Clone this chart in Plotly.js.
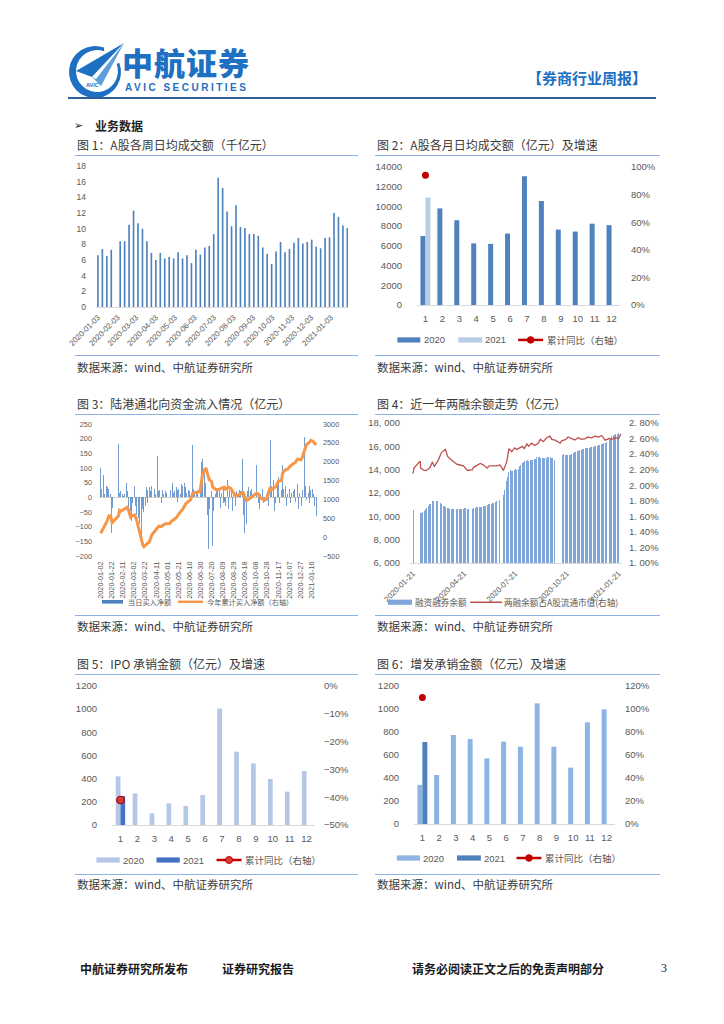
<!DOCTYPE html>
<html><head><meta charset="utf-8">
<script src="https://cdn.plot.ly/plotly-3.0.1.min.js"></script>
<style>
html,body{margin:0;padding:0;background:#fff;}
#page{position:relative;width:724px;height:1024px;overflow:hidden;background:#fff;font-family:"Noto Sans CJK SC","Noto Sans",sans-serif;}
.t{position:absolute;white-space:nowrap;line-height:1;}
.rule{position:absolute;height:0;border-top:1.5px solid #8db3e2;}
.chart{position:absolute;}
.cap{font-size:12px;color:#3a3a3a;}
.src{font-size:11.5px;color:#3a3a3a;}
.foot{font-size:12px;font-weight:700;color:#1a1a1a;}
</style></head>
<body><div id="page">
<svg class="t" style="left:0;top:0" width="724" height="110">
  <path d="M119.4,63.1 A26,26 0 1 1 103.9,47.6 L104.2,51.3 A21,21 0 1 0 116.7,63.8 Z" fill="#1d70c2"/>
  <polygon points="76,71 124,43 92,77" fill="#1d70c2"/>
  <polygon points="92,77 124,43 101,86" fill="#5d9fdc"/>
  <polygon points="92,77 124,43 96,79" fill="#ffffff"/>
  <text x="86" y="87" font-family="Liberation Sans" font-size="5.5" font-weight="700" fill="#1d70c2">AVIC</text>
</svg>
<div class="t" style="left:122px;top:46px;font-size:31px;font-weight:900;color:#1d70c2;letter-spacing:1px;">中航证券</div>
<div class="t" style="left:125px;top:83px;font-size:10px;font-weight:700;color:#1d70c2;letter-spacing:2.5px;font-family:'Liberation Sans',Arial,sans-serif;">AVIC SECURITIES</div>
<div class="t" style="left:527px;top:70px;font-size:15px;font-weight:700;color:#1d70c2;">【券商行业周报】</div>
<div style="position:absolute;left:68px;top:97px;width:588px;height:0;border-top:2px solid #2e5f96;"></div>
<div class="t" style="left:74px;top:120px;font-size:11px;color:#222;font-family:'DejaVu Sans';">➢</div>
<div class="t" style="left:95px;top:120px;font-size:12px;font-weight:700;color:#222;">业务数据</div>

<div class="t cap" style="left:77px;top:139px;">图 1：A股各周日均成交额（千亿元）</div>
<div class="t cap" style="left:377px;top:139px;">图 2：A股各月日均成交额（亿元）及增速</div>
<div class="rule" style="left:75px;top:155px;width:283px;"></div>
<div class="rule" style="left:375px;top:155px;width:285px;"></div>
<div class="rule" style="left:75px;top:355px;width:283px;"></div>
<div class="rule" style="left:375px;top:355px;width:285px;"></div>
<div class="t src" style="left:77px;top:362px;">数据来源：wind、中航证券研究所</div>
<div class="t src" style="left:377px;top:362px;">数据来源：wind、中航证券研究所</div>

<div class="t cap" style="left:77px;top:398px;">图 3：陆港通北向资金流入情况（亿元）</div>
<div class="t cap" style="left:377px;top:398px;">图 4：近一年两融余额走势（亿元）</div>
<div class="rule" style="left:75px;top:414px;width:283px;"></div>
<div class="rule" style="left:375px;top:414px;width:285px;"></div>
<div class="rule" style="left:75px;top:615px;width:283px;"></div>
<div class="rule" style="left:375px;top:615px;width:285px;"></div>
<div class="t src" style="left:77px;top:621px;">数据来源：wind、中航证券研究所</div>
<div class="t src" style="left:377px;top:621px;">数据来源：wind、中航证券研究所</div>

<div class="t cap" style="left:77px;top:658px;">图 5：IPO 承销金额（亿元）及增速</div>
<div class="t cap" style="left:377px;top:658px;">图 6：增发承销金额（亿元）及增速</div>
<div class="rule" style="left:75px;top:674px;width:283px;"></div>
<div class="rule" style="left:375px;top:674px;width:285px;"></div>
<div class="rule" style="left:75px;top:874px;width:283px;"></div>
<div class="rule" style="left:375px;top:874px;width:285px;"></div>
<div class="t src" style="left:77px;top:879px;">数据来源：wind、中航证券研究所</div>
<div class="t src" style="left:377px;top:879px;">数据来源：wind、中航证券研究所</div>

<div class="t foot" style="left:80px;top:963px;">中航证券研究所发布</div>
<div class="t foot" style="left:222px;top:963px;">证券研究报告</div>
<div class="t foot" style="left:412px;top:963px;">请务必阅读正文之后的免责声明部分</div>
<div class="t" style="left:661px;top:962px;font-size:12px;color:#1a1a1a;font-family:'Liberation Serif',serif;">3</div>

<div id="c1" class="chart"></div>
<div id="c2" class="chart"></div>
<div id="c3" class="chart"></div>
<div id="c4" class="chart"></div>
<div id="c5" class="chart"></div>
<div id="c6" class="chart"></div>
</div>
<script>
// ---------------- DATA ----------------
// Fig 1: weekly average daily turnover (千亿元)
const weekDates = ['2020-01-03','2020-01-10','2020-01-17','2020-01-24','2020-01-31','2020-02-07','2020-02-14','2020-02-21','2020-02-28',
 '2020-03-06','2020-03-13','2020-03-20','2020-03-27','2020-04-03','2020-04-10','2020-04-17','2020-04-24','2020-05-01','2020-05-08',
 '2020-05-15','2020-05-22','2020-05-29','2020-06-05','2020-06-12','2020-06-19','2020-06-26','2020-07-03','2020-07-10','2020-07-17',
 '2020-07-24','2020-07-31','2020-08-07','2020-08-14','2020-08-21','2020-08-28','2020-09-04','2020-09-11','2020-09-18','2020-09-25',
 '2020-10-02','2020-10-09','2020-10-16','2020-10-23','2020-10-30','2020-11-06','2020-11-13','2020-11-20','2020-11-27','2020-12-04',
 '2020-12-11','2020-12-18','2020-12-25','2021-01-01','2021-01-08','2021-01-15','2021-01-22','2021-01-29'];
const weeklyTurnover = [6.6,7.4,6.5,7.3,null,8.4,8.4,10.5,12.3,10.7,
 10.0,8.4,6.9,6.0,6.9,6.2,6.4,6.2,7.0,6.2,
 6.6,5.6,7.3,6.7,7.6,7.8,9.3,16.5,15.2,12.2,
 10.3,13.0,10.2,10.1,9.3,9.3,9.1,7.6,6.8,5.5,
 7.1,8.3,7.0,7.4,8.2,8.8,8.1,8.3,8.6,7.7,
 7.5,8.8,8.9,12.0,11.5,10.4,10.1];

// Fig 2: monthly average daily turnover (亿元) and cumulative YoY
const months = ['1','2','3','4','5','6','7','8','9','10','11','12'];
const turnover2020 = [7000,9800,8600,6250,6200,7250,13050,10550,7650,7450,8250,8100];
const turnover2021 = [10900,null,null,null,null,null,null,null,null,null,null,null];
const turnoverYoY  = [0.94,null,null,null,null,null,null,null,null,null,null,null];

// Fig 3: northbound daily net buy (亿元), by month (trading days)
const nbJan20 = [100,30,25,75,20,10,75,40,35,30,30,40,10,-5,-120,-35];
const nbFeb20 = [182,105,15,-20,20,10,30,5,-15,10,50,20,20,-30,-40,-30,-45,-80,-30,-20];
const nbMar20 = [30,40,-20,-30,-60,-140,-70,-40,-90,-45,-150,-40,-35,-50,20,-30,40,35,25,-20,35,20];
const nbApr20 = [20,45,40,60,30,35,10,140,85,20,-15,25,15,-20,15,25,10,-10,20,30,15];
const nbMay20 = [10,25,20,48,15,-10,20,30,35,25,-15,30,40,10,20,45,35,40];
const nbJun20 = [50,40,35,60,15,25,10,20,-10,5,20,180,30,40,20,10,15,25,30,50];
const nbJul20 = [40,120,130,135,90,30,50,20,-60,-175,-50,-40,-80,20,-30,-165,-25,-45,10,5,20,-40,30];
const nbAug20 = [30,20,-35,25,15,-20,40,-15,20,-30,15,60,-10,-40,25,-20,30,-35,-45,20,-40];
const nbSep20 = [-30,-40,20,-25,15,25,-10,20,10,130,-40,-60,-120,30,-90,-40,20,35,15,20,-10,30];
const nbOct20 = [110,-20,15,-40,-70,10,-25,30,-10,-20,-15,35,10,-15,20,-30];
const nbNov20 = [30,195,-50,40,20,60,-45,15,-20,35,50,70,20,-20,30,25,40,110,30,25,40];
const nbDec20 = [25,-30,15,10,20,30,-20,40,15,-25,20,30,10,-15,20,45,30,-40,15,20,-30,40,25];
const nbJan21 = [205,40,20,-10,80,15,-20,40,25,20,30,-25,10,-30,-20,-65];
// Fig 3: cumulative net buy this year (亿元, right axis)
const nbCumDates = ['2020-01-02','2020-01-07','2020-01-13','2020-01-17','2020-01-20','2020-01-22','2020-01-23','2020-02-03','2020-02-05','2020-02-07',
 '2020-02-12','2020-02-17','2020-02-19','2020-02-21','2020-02-25','2020-02-28','2020-03-03','2020-03-06','2020-03-09','2020-03-13',
 '2020-03-18','2020-03-20','2020-03-25','2020-03-30','2020-04-03','2020-04-13','2020-04-16','2020-04-20','2020-04-27','2020-05-06',
 '2020-05-08','2020-05-14','2020-05-18','2020-05-22','2020-05-29','2020-06-04','2020-06-09','2020-06-12','2020-06-16','2020-06-22',
 '2020-06-24','2020-06-29','2020-07-01','2020-07-03','2020-07-07','2020-07-10','2020-07-13','2020-07-16','2020-07-20','2020-07-22',
 '2020-07-24','2020-07-29','2020-08-03','2020-08-07','2020-08-12','2020-08-14','2020-08-20','2020-08-24','2020-08-28','2020-09-02',
 '2020-09-07','2020-09-11','2020-09-14','2020-09-17','2020-09-21','2020-09-25','2020-09-30','2020-10-09','2020-10-12','2020-10-16',
 '2020-10-23','2020-10-27','2020-11-03','2020-11-04','2020-11-09','2020-11-13','2020-11-17','2020-11-23','2020-11-25','2020-11-30',
 '2020-12-04','2020-12-08','2020-12-14','2020-12-18','2020-12-22','2020-12-28','2020-12-30','2021-01-04','2021-01-07','2021-01-12',
 '2021-01-15','2021-01-19','2021-01-22','2021-01-25'];
const nbCumValues = [102,235,413,563,570,430,390,560,705,680,
 723,767,794,723,528,563,590,501,324,14,
 -208,-252,-181,-119,58,235,297,280,351,368,
 413,475,528,616,740,900,971,989,1166,1184,
 1210,1210,1387,1609,1786,1830,1653,1520,1476,1325,
 1299,1254,1272,1299,1325,1272,1325,1290,1184,1095,
 1122,1148,1210,1095,971,1006,1060,1166,1148,1033,
 989,1006,1325,1254,1299,1343,1476,1503,1697,1786,
 1804,1875,1946,1981,2070,2052,2096,2318,2451,2513,
 2566,2539,2477,2460];

// Fig 4: margin balance (亿元), by month (trading days)
const mgJan20 = [10600,10580,10520];
const mgFeb20 = [10270,10250,10300,10350,10400,10450,10500,10560,10620,10680,10760,10850,10930,11020,11100,11200,11290,11320,11280,11220];
const mgMar20 = [11250,11300,11330,11320,11300,11250,11180,11120,11060,11000,10920,10850,10800,10760,10720,10700,10690,10680,10670,10660,10650,10640];
const mgApr20 = [10630,10620,10600,10610,10630,10650,10660,10650,10640,10620,10630,10640,10650,10660,10680,10690,10680,10660,10640,10620,10600];
const mgMay20 = [10620,10650,10680,10700,10730,10760,10780,10790,10800,10810,10820,10830,10830,10840,10850,10870,10890,10910];
const mgJun20 = [10930,10960,10990,11020,11050,11070,11090,11110,11130,11150,11180,11210,11250,11290,11330,11380,11430,11480,11620,11800];
const mgJul20 = [12000,12250,12550,13000,13350,13600,13800,13900,13950,13900,13880,13920,13950,13980,14020,14050,14000,14020,14100,14180,14300,14420,14530];
const mgAug20 = [14600,14650,14700,14740,14760,14760,14780,14790,14800,14780,14800,14820,14840,14850,14860,14880,14900,14950,15000,15050,15100];
const mgSep20 = [15080,15060,15040,15020,15000,14980,14960,14970,15000,15020,15040,15060,15080,15090,15100,15080,15040,14990,14960,14900,14860,14820];
const mgOct20 = [15160,15230,15290,15330,15320,15300,15290,15280,15260,15250,15240,15260,15290,15320,15350,15380];
const mgNov20 = [15400,15440,15480,15520,15540,15570,15600,15620,15650,15680,15700,15720,15750,15780,15810,15840,15870,15880,15890,15900,15900];
const mgDec20 = [15900,15910,15920,15940,15960,15980,16000,16010,16030,16060,16080,16100,16120,16140,16170,16200,16220,16240,16260,16290,16320,16340,16360];
const mgJan21 = [16450,16550,16650,16750,16860,16900,16940,16980,17000,17030,17060,17090,17110,17140,17150,17200];
// Fig 4: margin balance / A-share float market cap (%, right axis)
const mgRatioDates = ['2020-01-21','2020-01-22','2020-01-23','2020-02-03','2020-02-04','2020-02-10','2020-02-14','2020-02-20','2020-02-25','2020-02-28',
 '2020-03-06','2020-03-12','2020-03-19','2020-03-23','2020-03-27','2020-04-02','2020-04-08','2020-04-14','2020-04-20','2020-04-27',
 '2020-05-06','2020-05-08','2020-05-14','2020-05-20','2020-05-26','2020-06-01','2020-06-05','2020-06-12','2020-06-18','2020-06-24',
 '2020-06-30','2020-07-06','2020-07-10','2020-07-15','2020-07-20','2020-07-24','2020-07-29','2020-08-03','2020-08-06','2020-08-11',
 '2020-08-14','2020-08-19','2020-08-25','2020-08-31','2020-09-04','2020-09-09','2020-09-15','2020-09-21','2020-09-24','2020-09-30',
 '2020-10-09','2020-10-12','2020-10-19','2020-10-23','2020-10-30','2020-11-04','2020-11-10','2020-11-16','2020-11-23','2020-11-27',
 '2020-12-04','2020-12-10','2020-12-16','2020-12-22','2020-12-28','2021-01-04','2021-01-08','2021-01-15','2021-01-21','2021-01-25'];
const mgRatioValues = [2.15,2.17,2.22,2.31,2.22,2.19,2.19,2.22,2.30,2.24,
 2.32,2.42,2.46,2.37,2.34,2.30,2.27,2.26,2.25,2.19,
 2.20,2.23,2.25,2.28,2.26,2.22,2.25,2.25,2.25,2.26,
 2.19,2.30,2.47,2.43,2.48,2.46,2.48,2.50,2.47,2.53,
 2.50,2.54,2.51,2.54,2.59,2.56,2.61,2.63,2.59,2.58,
 2.54,2.57,2.59,2.62,2.60,2.58,2.61,2.59,2.60,2.62,
 2.61,2.63,2.62,2.64,2.58,2.60,2.59,2.61,2.60,2.66];

// Fig 5: IPO underwriting (亿元) and cumulative YoY
const ipo2020 = [420,273,100,187,164,259,1005,633,532,397,288,466];
const ipo2021 = [250,null,null,null,null,null,null,null,null,null,null,null];
const ipoYoY  = [-0.41,null,null,null,null,null,null,null,null,null,null,null];

// Fig 6: follow-on offering underwriting (亿元) and cumulative YoY
const spo2020 = [340,426,774,739,571,716,672,1049,672,490,884,997];
const spo2021 = [713,null,null,null,null,null,null,null,null,null,null,null];
const spoYoY  = [1.10,null,null,null,null,null,null,null,null,null,null,null];

// tick labels / series names
const c4LeftTicks = [6000,8000,10000,12000,14000,16000,18000];
const c4LeftText = ['6, 000','8, 000','10, 000','12, 000','14, 000','16, 000','18, 000'];
const c4RightTicks = [1.0,1.2,1.4,1.6,1.8,2.0,2.2,2.4,2.6,2.8];
const c4RightText = ['1. 00%','1. 20%','1. 40%','1. 60%','1. 80%','2. 00%','2. 20%','2. 40%','2. 60%','2. 80%'];
const c4XTicks = ['2020-01-21','2020-04-21','2020-07-21','2020-10-21','2021-01-21'];
const yearNames = ['2020','2021'];
const yoyName = '累计同比（右轴）';
const nbNames = ['当日买入净额','今年累计买入净额（右轴）'];
const mgNames = ['融资融券余额','两融余额占A股流通市值(右轴)'];

// ---------------- HELPERS ----------------
const DAY = 86400000;
const HOLIDAYS = new Set(['2020-01-01','2020-01-24','2020-01-27','2020-01-28','2020-01-29','2020-01-30','2020-01-31',
 '2020-04-06','2020-05-01','2020-05-04','2020-05-05','2020-06-25','2020-06-26',
 '2020-10-01','2020-10-02','2020-10-05','2020-10-06','2020-10-07','2020-10-08','2021-01-01']);
function tradingDays(y, m, from, to){
  const out=[]; const last=new Date(Date.UTC(y,m,0)).getUTCDate();
  for(let d=from; d<=Math.min(to,last); d++){
    const dt=new Date(Date.UTC(y,m-1,d)); const wd=dt.getUTCDay();
    if(wd===0||wd===6) continue;
    const s=dt.toISOString().slice(0,10);
    if(HOLIDAYS.has(s)) continue;
    out.push(s);
  }
  return out;
}
function buildDaily(spec){
  const x=[],y=[];
  spec.forEach(([yy,mm,f,t,vals])=>{const ds=tradingDays(yy,mm,f,t); const n=Math.min(ds.length,vals.length); for(let i=0;i<n;i++){x.push(ds[i]);y.push(vals[i]);}});
  return {x,y};
}
const nb = buildDaily([[2020,1,2,31,nbJan20],[2020,2,1,29,nbFeb20],[2020,3,1,31,nbMar20],[2020,4,1,30,nbApr20],[2020,5,1,31,nbMay20],
 [2020,6,1,30,nbJun20],[2020,7,1,31,nbJul20],[2020,8,1,31,nbAug20],[2020,9,1,30,nbSep20],[2020,10,1,31,nbOct20],[2020,11,1,30,nbNov20],
 [2020,12,1,31,nbDec20],[2021,1,1,25,nbJan21]]);
const mg = buildDaily([[2020,1,21,31,mgJan20],[2020,2,1,29,mgFeb20],[2020,3,1,31,mgMar20],[2020,4,1,30,mgApr20],[2020,5,1,31,mgMay20],
 [2020,6,1,30,mgJun20],[2020,7,1,31,mgJul20],[2020,8,1,31,mgAug20],[2020,9,1,30,mgSep20],[2020,10,1,31,mgOct20],[2020,11,1,30,mgNov20],
 [2020,12,1,31,mgDec20],[2021,1,1,25,mgJan21]]);

const NUMF = 'Liberation Sans, Arial, sans-serif';
const CJKF = 'Noto Sans CJK SC, sans-serif';
const GREY = '#595959';
const config = {staticPlot:true, displayModeBar:false};
const PADL = 30, PADR = 10;
function widen(g){return {left:g.left-PADL,top:g.top,w:g.w+PADL+PADR,h:g.h,ml:g.ml+PADL,mr:g.mr+PADR,mt:g.mt,mb:g.mb};}

function place(id,g){const el=document.getElementById(id); el.style.left=g.left+'px'; el.style.top=g.top+'px'; el.style.width=g.w+'px'; el.style.height=g.h+'px';}
function legendDecor(g, items){
  const pw=g.w-g.ml-g.mr, ph=g.h-g.mt-g.mb;
  const X=px=>(px-g.left-g.ml)/pw, Y=py=>1-(py-g.top-g.mt)/ph;
  const shapes=[], annotations=[];
  items.forEach(it=>{
    if(it.kind==='bar'){
      shapes.push({type:'rect',xref:'paper',yref:'paper',x0:X(it.x0),x1:X(it.x1),y0:Y(it.y+it.hh),y1:Y(it.y-it.hh),fillcolor:it.color,line:{width:0}});
    } else {
      shapes.push({type:'line',xref:'paper',yref:'paper',x0:X(it.x0),x1:X(it.x1),y0:Y(it.y),y1:Y(it.y),line:{color:it.color,width:it.lw}});
      if(it.dot){const cx=(it.x0+it.x1)/2,r=it.dot; shapes.push({type:'circle',xref:'paper',yref:'paper',x0:X(cx-r),x1:X(cx+r),y0:Y(it.y+r),y1:Y(it.y-r),fillcolor:it.dotFill||it.color,line:{color:it.color,width:1}});}
    }
    annotations.push({xref:'paper',yref:'paper',x:X(it.tx),y:Y(it.y),xanchor:'left',yanchor:'middle',text:it.text,showarrow:false,font:it.font,borderpad:0});
  });
  return {shapes,annotations};
}
function ax(extra){return Object.assign({showgrid:false,zeroline:false,showline:false,ticks:'',fixedrange:true,automargin:false,
  ticklabeloverflow:'allow',tickfont:{family:NUMF,size:9.5,color:GREY}},extra);}
function baseLayout(g){return {width:g.w,height:g.h,margin:{l:g.ml,r:g.mr,t:g.mt,b:g.mb,pad:0},
  paper_bgcolor:'rgba(0,0,0,0)',plot_bgcolor:'rgba(0,0,0,0)',showlegend:false,font:{family:NUMF,color:GREY}};}

// ---------------- FIG 1 ----------------
const g1=widen({left:70,top:157,w:290,h:198,ml:26,mr:11.7,mt:9,mb:48});
place('c1',g1);
Plotly.newPlot('c1',[{type:'bar',x:weekDates,y:weeklyTurnover,width:2.6*DAY,marker:{color:'#4f81bd',line:{width:0}}}],
 Object.assign(baseLayout(g1),{
  xaxis:ax({type:'date',range:['2019-12-31','2021-01-30'],tick0:'2020-01-03',dtick:'M1',tickformat:'%Y-%m-%d',tickangle:-45,
    tickfont:{family:NUMF,size:7.8,color:GREY},showline:true,linecolor:'#d9d9d9',linewidth:1,ticklabelstandoff:2}),
  yaxis:ax({range:[0,18],dtick:2,tickfont:{family:NUMF,size:8.5,color:GREY},ticklabelstandoff:9})
 }),config);

// ---------------- FIG 2 ----------------
const g2=widen({left:370,top:157,w:290,h:198,ml:46.7,mr:40,mt:9.7,mb:50});
place('c2',g2);
const lg2=legendDecor(g2,[
 {kind:'bar',x0:397,x1:420,y:340,hh:2.6,color:'#4f81bd',tx:422.5,text:yearNames[0],font:{family:NUMF,size:9.5,color:GREY}},
 {kind:'bar',x0:458,x1:482,y:340,hh:2.6,color:'#b9cde5',tx:484,text:yearNames[1],font:{family:NUMF,size:9.5,color:GREY}},
 {kind:'line',x0:518,x1:543,y:340,lw:2.5,color:'#c00000',dot:3.3,tx:546,text:yoyName,font:{family:CJKF,size:9.5,color:GREY}}
]);
Plotly.newPlot('c2',[
 {type:'bar',x:months,y:turnover2020,name:yearNames[0],marker:{color:'#4f81bd'}},
 {type:'bar',x:months,y:turnover2021,name:yearNames[1],marker:{color:'#b9cde5'}},
 {type:'scatter',mode:'markers',x:months,y:turnoverYoY,yaxis:'y2',name:yoyName,marker:{color:'#c00000',size:7},cliponaxis:false}
],Object.assign(baseLayout(g2),{barmode:'group',bargap:0.41,bargroupgap:0,
 xaxis:ax({type:'category',range:[-0.5,11.5],showline:true,linecolor:'#d9d9d9',ticklabelstandoff:5}),
 yaxis:ax({range:[0,14000],dtick:2000,tickformat:'d',ticklabelstandoff:14}),
 yaxis2:ax({overlaying:'y',side:'right',range:[0,1],dtick:0.2,tickformat:'.0%',ticklabelstandoff:10}),
 shapes:lg2.shapes,annotations:lg2.annotations}),config);

// ---------------- FIG 3 ----------------
const g3=widen({left:70,top:416,w:290,h:198,ml:29,mr:43,mt:8.3,mb:58});
place('c3',g3);
const lg3=legendDecor(g3,[
 {kind:'bar',x0:102,x1:123,y:601.7,hh:1.8,color:'#4f81bd',tx:127,text:nbNames[0],font:{family:CJKF,size:7.2,color:GREY}},
 {kind:'line',x0:178,x1:203,y:601.7,lw:2.5,color:'#f79646',tx:206,text:nbNames[1],font:{family:CJKF,size:7.2,color:GREY}}
]);
Plotly.newPlot('c3',[
 {type:'bar',x:nb.x,y:nb.y,name:nbNames[0],width:1.2*DAY,marker:{color:'#5b8cc8',line:{width:0}},opacity:0.85},
 {type:'scatter',mode:'lines',x:nbCumDates,y:nbCumValues,yaxis:'y2',name:nbNames[1],line:{color:'#f79646',width:3}}
],Object.assign(baseLayout(g3),{bargap:0,
 xaxis:ax({type:'date',range:['2019-12-30','2021-01-26'],tick0:'2020-01-02',dtick:20*DAY,tickformat:'%Y-%m-%d',tickangle:-90,
   tickfont:{family:NUMF,size:7.3,color:GREY},ticklabelstandoff:3}),
 yaxis:ax({range:[-200,250],dtick:50,tickfont:{family:NUMF,size:7.3,color:GREY},ticklabelstandoff:6,zeroline:true,zerolinecolor:'#d9d0c0',zerolinewidth:1}),
 yaxis2:ax({overlaying:'y',side:'right',range:[-500,3000],dtick:500,tickfont:{family:NUMF,size:7.3,color:GREY},ticklabelstandoff:5}),
 shapes:lg3.shapes,annotations:lg3.annotations}),config);

// ---------------- FIG 4 ----------------
const g4=widen({left:370,top:416,w:290,h:198,ml:40,mr:38.2,mt:6.7,mb:50.7});
place('c4',g4);
const lg4=legendDecor(g4,[
 {kind:'bar',x0:388,x1:412,y:602.7,hh:2.6,color:'#7fa6d9',tx:414,text:mgNames[0],font:{family:CJKF,size:8.6,color:GREY}},
 {kind:'line',x0:470,x1:502,y:602.7,lw:1.5,color:'#c0504d',tx:503,text:mgNames[1],font:{family:CJKF,size:8.6,color:GREY}}
]);
Plotly.newPlot('c4',[
 {type:'bar',x:mg.x,y:mg.y,name:mgNames[0],width:DAY,marker:{color:'#7fa6d9',line:{width:0}}},
 {type:'scatter',mode:'lines',x:mgRatioDates,y:mgRatioValues,yaxis:'y2',name:mgNames[1],line:{color:'#c0504d',width:1.3}}
],Object.assign(baseLayout(g4),{bargap:0,
 xaxis:ax({type:'date',range:['2020-01-16','2021-01-27'],tickvals:c4XTicks,tickformat:'%Y-%m-%d',tickangle:-45,
   tickfont:{family:NUMF,size:7.8,color:GREY},showline:true,linecolor:'#d9d9d9',ticklabelstandoff:2}),
 yaxis:ax({range:[6000,18000],tickvals:c4LeftTicks,ticktext:c4LeftText,tickfont:{family:NUMF,size:9.5,color:GREY},ticklabelstandoff:9}),
 yaxis2:ax({overlaying:'y',side:'right',range:[1.0,2.8],tickvals:c4RightTicks,ticktext:c4RightText,tickfont:{family:NUMF,size:9.5,color:GREY},ticklabelstandoff:6}),
 shapes:lg4.shapes,annotations:lg4.annotations}),config);

// ---------------- FIG 5 ----------------
const g5=widen({left:70,top:676,w:290,h:197,ml:42.3,mr:45,mt:10,mb:48});
place('c5',g5);
const lg5=legendDecor(g5,[
 {kind:'bar',x0:96.7,x1:120,y:860,hh:2.6,color:'#b4c7e7',tx:122,text:yearNames[0],font:{family:NUMF,size:9.5,color:GREY}},
 {kind:'bar',x0:156.7,x1:180,y:860,hh:2.6,color:'#4472c4',tx:182,text:yearNames[1],font:{family:NUMF,size:9.5,color:GREY}},
 {kind:'line',x0:216.7,x1:241.7,y:860,lw:2.5,color:'#c00000',dot:3.5,dotFill:'#d83b3b',tx:244,text:yoyName,font:{family:CJKF,size:9.5,color:GREY}}
]);
Plotly.newPlot('c5',[
 {type:'bar',x:months,y:ipo2020,name:yearNames[0],marker:{color:'#b4c7e7'}},
 {type:'bar',x:months,y:ipo2021,name:yearNames[1],marker:{color:'#4472c4'}},
 {type:'scatter',mode:'markers',x:months,y:ipoYoY,yaxis:'y2',name:yoyName,marker:{color:'#d83b3b',size:7.5,line:{color:'#a00000',width:1.2}},cliponaxis:false}
],Object.assign(baseLayout(g5),{barmode:'group',bargap:0.444,bargroupgap:0,
 xaxis:ax({type:'category',range:[-0.5,11.5],showline:true,linecolor:'#d9d9d9',ticklabelstandoff:5}),
 yaxis:ax({range:[0,1200],dtick:200,tickformat:'d',ticklabelstandoff:14}),
 yaxis2:ax({overlaying:'y',side:'right',range:[-0.5,0],dtick:0.1,tickformat:'.0%',ticklabelstandoff:8}),
 shapes:lg5.shapes,annotations:lg5.annotations}),config);

// ---------------- FIG 6 ----------------
const g6=widen({left:370,top:676,w:290,h:197,ml:43.9,mr:44.5,mt:10,mb:49});
place('c6',g6);
const lg6=legendDecor(g6,[
 {kind:'bar',x0:396.7,x1:420,y:858,hh:2.6,color:'#8db4e2',tx:422,text:yearNames[0],font:{family:NUMF,size:9.5,color:GREY}},
 {kind:'bar',x0:457,x1:481,y:858,hh:2.6,color:'#4f81bd',tx:483,text:yearNames[1],font:{family:NUMF,size:9.5,color:GREY}},
 {kind:'line',x0:516.7,x1:541.7,y:858,lw:2.5,color:'#c00000',dot:3.3,tx:544,text:yoyName,font:{family:CJKF,size:9.5,color:GREY}}
]);
Plotly.newPlot('c6',[
 {type:'bar',x:months,y:spo2020,name:yearNames[0],marker:{color:'#8db4e2'}},
 {type:'bar',x:months,y:spo2021,name:yearNames[1],marker:{color:'#4f81bd'}},
 {type:'scatter',mode:'markers',x:months,y:spoYoY,yaxis:'y2',name:yoyName,marker:{color:'#c00000',size:7},cliponaxis:false}
],Object.assign(baseLayout(g6),{barmode:'group',bargap:0.405,bargroupgap:0,
 xaxis:ax({type:'category',range:[-0.5,11.5],showline:true,linecolor:'#d9d9d9',ticklabelstandoff:5}),
 yaxis:ax({range:[0,1200],dtick:200,tickformat:'d',ticklabelstandoff:14}),
 yaxis2:ax({overlaying:'y',side:'right',range:[0,1.2],dtick:0.2,tickformat:'.0%',ticklabelstandoff:9}),
 shapes:lg6.shapes,annotations:lg6.annotations}),config);
</script>
</body></html>
